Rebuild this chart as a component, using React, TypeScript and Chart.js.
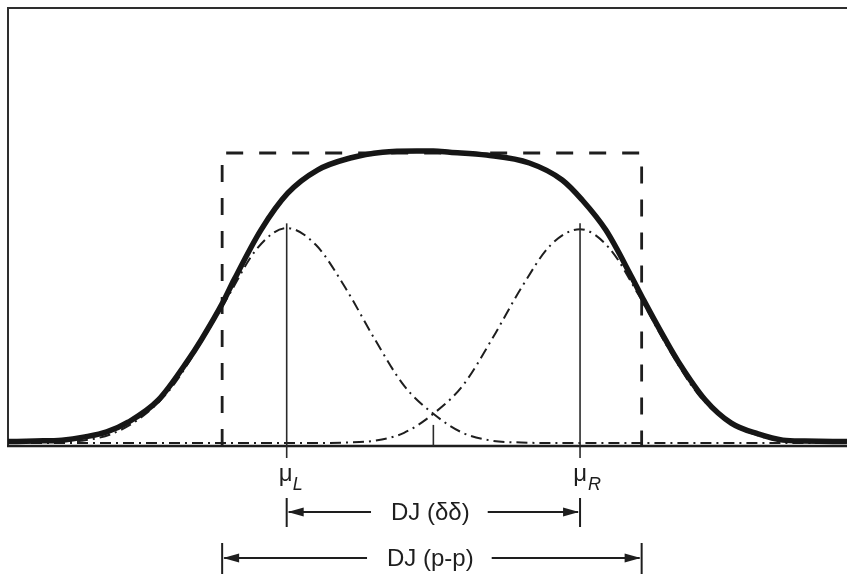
import { useEffect, useRef } from "react";
import { Chart, registerables } from "chart.js";

Chart.register(...registerables);

// Total jitter envelope (solid): x in units of the dual-Dirac offset, y normalised to the box height
const solidX = [-2.9, -2.715, -2.532, -2.376, -2.227, -2.078, -1.875, -1.671, -1.583, -1.434, -1.359, -1.176, -0.993, -0.79, -0.567, -0.346, -0.112, 0, 0.112, 0.363, 0.654, 0.878, 1.014, 1.176, 1.352, 1.434, 1.583, 1.671, 1.854, 2.031, 2.214, 2.383, 2.532, 2.82];
const solidY = [0.015, 0.017, 0.02, 0.031, 0.048, 0.082, 0.157, 0.294, 0.362, 0.491, 0.567, 0.737, 0.863, 0.942, 0.983, 1.003, 1.007, 1.007, 1.003, 0.993, 0.966, 0.908, 0.84, 0.737, 0.577, 0.498, 0.362, 0.287, 0.157, 0.078, 0.041, 0.02, 0.017, 0.015];

// Gaussian components around μL and μR (dash-dot)
const gaussX = [-2.9, -2.8, -2.6, -2.4, -2.2, -2.0, -1.8, -1.6, -1.4, -1.2, -1.0, -0.8, -0.6, -0.4, -0.2, 0, 0.2, 0.4, 0.6, 0.8, 1.0, 1.2, 1.4, 1.6, 1.8, 2.0, 2.2, 2.4, 2.6, 2.8];
const leftGaussY = [0.01, 0.01, 0.012, 0.018, 0.04, 0.095, 0.19, 0.34, 0.51, 0.675, 0.744, 0.686, 0.54, 0.365, 0.206, 0.11, 0.045, 0.018, 0.012, 0.01, 0.01, 0.01, 0.01, 0.01, 0.01, 0.01, 0.01, 0.01, 0.01, 0.01];
const rightGaussY = [0.01, 0.01, 0.01, 0.01, 0.01, 0.01, 0.01, 0.01, 0.01, 0.01, 0.01, 0.01, 0.012, 0.018, 0.045, 0.11, 0.206, 0.365, 0.54, 0.686, 0.74, 0.675, 0.515, 0.335, 0.18, 0.085, 0.038, 0.016, 0.012, 0.01];

// Peak-to-peak box (dashed)
const boxX = [-1.44, -1.44, 1.42, 1.42];
const boxY = [0, 1, 1, 0];

// Dual-Dirac positions and marker heights
const muX = [-1, 1];
const muLabels = ["L", "R"];
const muTop = 0.76;
const centerX = 0;
const centerTickTop = 0.072;

const ddLabel = "DJ (\u03B4\u03B4)";
const ppLabel = "DJ (p-p)";

const X_MIN = -2.9;
const X_MAX = 2.82;
const Y_MAX = 1.495;

const INK = "#1e1e1e";
const FONT = '"Liberation Sans", Arial, sans-serif';

function pts(xs: number[], ys: number[]) {
  return xs.map((x, i) => ({ x, y: ys[i] }));
}

function arrowHead(ctx: CanvasRenderingContext2D, tipX: number, y: number, dir: number) {
  const len = 16;
  const half = 4.5;
  ctx.beginPath();
  ctx.moveTo(tipX, y);
  ctx.lineTo(tipX + dir * len, y - half);
  ctx.lineTo(tipX + dir * len, y + half);
  ctx.closePath();
  ctx.fill();
}

function vline(ctx: CanvasRenderingContext2D, x: number, y1: number, y2: number) {
  ctx.beginPath();
  ctx.moveTo(x, y1);
  ctx.lineTo(x, y2);
  ctx.stroke();
}

function hline(ctx: CanvasRenderingContext2D, x1: number, x2: number, y: number) {
  ctx.beginPath();
  ctx.moveTo(x1, y);
  ctx.lineTo(x2, y);
  ctx.stroke();
}

// Draws a span arrow: |<---- label ---->|
function spanArrow(ctx: CanvasRenderingContext2D, xl: number, xr: number, cx: number, y: number, label: string, tickTop: number, tickBottom: number) {
  ctx.font = `24px ${FONT}`;
  const w = ctx.measureText(label).width;
  ctx.fillStyle = INK;
  ctx.textAlign = "center";
  ctx.textBaseline = "alphabetic";
  ctx.fillText(label, cx, y + 8);
  ctx.strokeStyle = INK;
  ctx.lineWidth = 2;
  hline(ctx, xl + 2, cx - w / 2 - 20, y);
  hline(ctx, cx + w / 2 + 18, xr - 2, y);
  arrowHead(ctx, xl + 1, y, 1);
  arrowHead(ctx, xr - 1, y, -1);
  ctx.lineWidth = 2;
  vline(ctx, xl, tickTop, tickBottom);
  vline(ctx, xr, tickTop, tickBottom);
}

const overlay = {
  id: "jitterOverlay",
  beforeDatasetsDraw(chart: any) {
    const { ctx, chartArea, scales } = chart;
    const base = scales.y.getPixelForValue(0);
    ctx.save();
    ctx.strokeStyle = "#2e2e2e";
    ctx.lineWidth = 2;
    ctx.beginPath();
    ctx.moveTo(chartArea.right + 2, chartArea.top);
    ctx.lineTo(chartArea.left, chartArea.top);
    ctx.lineTo(chartArea.left, base);
    ctx.stroke();
    ctx.strokeStyle = INK;
    ctx.lineWidth = 2.5;
    hline(ctx, chartArea.left - 1, chartArea.right + 2, base);
    ctx.restore();
  },
  afterDatasetsDraw(chart: any) {
    const { ctx, scales } = chart;
    const xs = scales.x;
    const ys = scales.y;
    const base = ys.getPixelForValue(0);
    ctx.save();

    // μ markers
    ctx.strokeStyle = "#2a2a2a";
    ctx.lineWidth = 1.6;
    muX.forEach((m) => vline(ctx, xs.getPixelForValue(m), ys.getPixelForValue(muTop), base + 12));
    vline(ctx, xs.getPixelForValue(centerX), ys.getPixelForValue(centerTickTop), base);

    // μ labels with italic subscripts
    ctx.fillStyle = INK;
    ctx.textBaseline = "alphabetic";
    muX.forEach((m, i) => {
      const px = xs.getPixelForValue(m);
      ctx.font = `24px ${FONT}`;
      ctx.textAlign = "right";
      ctx.fillText("\u03BC", px + (i === 0 ? 6 : 7), base + 35);
      ctx.font = `italic 18px ${FONT}`;
      ctx.textAlign = "left";
      ctx.fillText(muLabels[i], px + (i === 0 ? 6 : 8), base + 44);
    });

    // DJ spans
    const xL = xs.getPixelForValue(muX[0]);
    const xR = xs.getPixelForValue(muX[1]);
    const bL = xs.getPixelForValue(boxX[0]);
    const bR = xs.getPixelForValue(boxX[2]);
    const cx = (xL + xR) / 2 - 3;
    spanArrow(ctx, xL, xR, cx, base + 66, ddLabel, base + 52, base + 81);
    spanArrow(ctx, bL, bR, cx, base + 112, ppLabel, base + 97, base + 128);

    ctx.restore();
  },
};

export default function App() {
  const ref = useRef<HTMLCanvasElement | null>(null);

  useEffect(() => {
    if (!ref.current) return;
    const chart = new Chart(ref.current, {
      type: "line",
      data: {
        datasets: [
          {
            label: "Total",
            data: pts(solidX, solidY),
            borderColor: "#161616",
            borderWidth: 5.5,
            cubicInterpolationMode: "monotone",
            pointRadius: 0,
            fill: false,
            order: 0,
          },
          {
            label: "Box",
            data: pts(boxX, boxY),
            borderColor: "#1e1e1e",
            borderWidth: 2.8,
            borderDash: [17, 16],
            tension: 0,
            pointRadius: 0,
            fill: false,
            order: 1,
          },
          {
            label: "Left",
            data: pts(gaussX, leftGaussY),
            borderColor: "#1e1e1e",
            borderWidth: 2,
            borderDash: [11, 5, 2, 5],
            cubicInterpolationMode: "monotone",
            pointRadius: 0,
            fill: false,
            order: 2,
          },
          {
            label: "Right",
            data: pts(gaussX, rightGaussY),
            borderColor: "#1e1e1e",
            borderWidth: 2,
            borderDash: [11, 5, 2, 5],
            cubicInterpolationMode: "monotone",
            pointRadius: 0,
            fill: false,
            order: 2,
          },
        ],
      },
      options: {
        responsive: false,
        animation: false,
        layout: { padding: { left: 8, top: 8, right: 0, bottom: 128 } },
        plugins: { legend: { display: false }, tooltip: { enabled: false } },
        scales: {
          x: { type: "linear", min: X_MIN, max: X_MAX, display: false },
          y: { type: "linear", min: 0, max: Y_MAX, display: false },
        },
      },
      plugins: [overlay],
    });
    return () => chart.destroy();
  }, []);

  return (
    <div style={{ position: "fixed", left: 0, top: 0, width: 847, height: 574, background: "#fff" }}>
      <canvas ref={ref} width={847} height={574} style={{ display: "block" }} />
    </div>
  );
}
